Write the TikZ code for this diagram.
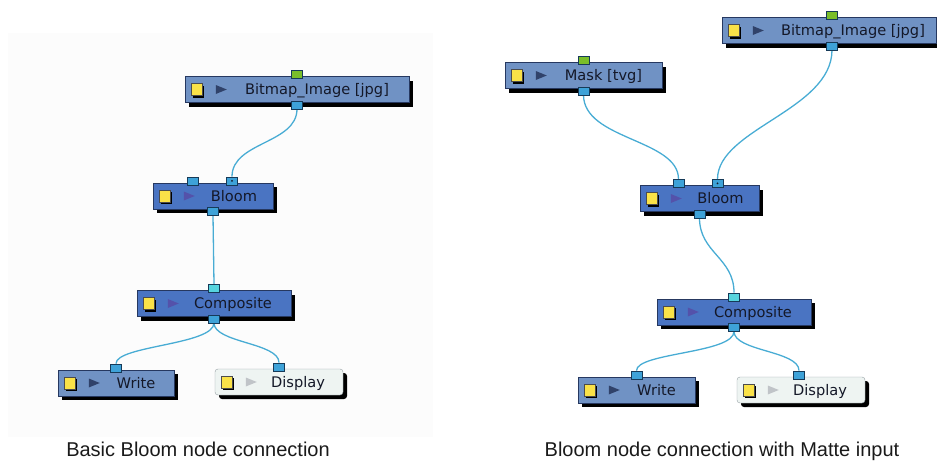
\documentclass[tikz,border=0pt]{standalone}
\usepackage{fontspec}
\newfontfamily\uifont{DejaVu Sans}
\newfontfamily\capfont{Liberation Sans}
\usetikzlibrary{shapes.geometric, shadows, backgrounds, calc}
\definecolor{cLight}{RGB}{112,146,196}
\definecolor{cDark}{RGB}{74,116,194}
\definecolor{cLine}{RGB}{38,56,96}
\definecolor{cPale}{RGB}{238,244,242}
\definecolor{cPaleLine}{RGB}{150,160,165}
\definecolor{cYel}{RGB}{250,226,72}
\definecolor{triL}{RGB}{48,66,106}
\definecolor{triD}{RGB}{84,82,170}
\definecolor{triP}{RGB}{192,196,200}
\definecolor{cPort}{RGB}{62,162,216}
\definecolor{cPortLine}{RGB}{22,58,88}
\definecolor{cGreen}{RGB}{122,190,42}
\definecolor{cCyan}{RGB}{86,212,222}
\definecolor{cWire}{RGB}{72,172,212}
\definecolor{cText}{RGB}{20,24,40}
\definecolor{cCap}{RGB}{26,26,26}
\definecolor{panelbg}{RGB}{252,252,252}
\tikzset{
  % --- Module boxes -----------------------------------------
  modbox/.style={draw=cLine, fill=cLight, minimum height=26pt, inner sep=0pt,
    drop shadow={shadow xshift=4pt, shadow yshift=-4pt, fill=black, opacity=1}},
  moddk/.style={modbox, fill=cDark},
  modpale/.style={modbox, fill=cPale, draw=cPaleLine, rounded corners=3pt},
  yel/.style={draw=black!70, fill=cYel, minimum width=11pt, minimum height=12pt,
    inner sep=0pt,
    drop shadow={shadow xshift=2pt, shadow yshift=-2pt, fill=black, opacity=1}},
  playtri/.style={isosceles triangle, isosceles triangle stretches,
    minimum width=9pt, minimum height=11pt, inner sep=0pt},
  lab/.style={font=\uifont\fontsize{14.6}{16}\selectfont, text=cText,
    inner sep=0pt, anchor=base},
  % --- Ports and wires --------------------------------------
  port/.style={draw=cPortLine, fill=cPort, minimum width=11pt,
    minimum height=8pt, inner sep=0pt},
  portg/.style={port, fill=cGreen},
  portc/.style={port, fill=cCyan},
  wire/.style={draw=cWire, line width=1.3pt},
  % --- Captions ---------------------------------------------
  captxt/.style={font=\capfont\fontsize{20}{24}\selectfont, text=cCap,
    inner sep=0pt, anchor=base}
}
\begin{document}
\begin{tikzpicture}[x=1pt, y=-1pt]
  \useasboundingbox (0,0) rectangle (937,463);

  % --- Basic Bloom (left) ---
  \node[modbox, minimum width=224pt] (bmpA)   at (297,89.5) {};
  \node[moddk,  minimum width=120pt] (bloomA) at (213,196) {};
  \node[moddk,  minimum width=154pt] (compA)  at (214,303.5) {};
  \node[modbox, minimum width=116pt] (writeA) at (116,383) {};
  \node[modpale, minimum width=128pt] (dispA) at (279,382) {};

  % --- Bloom with Matte (right) ---
  \node[modbox, minimum width=157pt] (maskB)  at (583.5,75.5) {};
  \node[modbox, minimum width=214pt] (bmpB)   at (829,30.5) {};
  \node[moddk,  minimum width=119pt] (bloomB) at (699.5,198.5) {};
  \node[moddk,  minimum width=154pt] (compB)  at (734,312) {};
  \node[modbox, minimum width=117pt] (writeB) at (636.5,390) {};
  \node[modpale, minimum width=128pt] (dispB) at (801,390) {};

  % --- icons and names ---
  \foreach \n/\tc in {bmpA/triL, bloomA/triD, compA/triD, writeA/triL,
      dispA/triP, maskB/triL, bmpB/triL, bloomB/triD, compB/triD,
      writeB/triL, dispB/triP} {
    \node[yel] (\n-y) at ([xshift=12pt]\n.west) {};
    \node[playtri, fill=\tc] (\n-p) at ([xshift=34pt]\n.west) {};
  }
  \foreach \n/\t/\dx in {bmpA/{Bitmap\_Image [jpg]}/20, bloomA/Bloom/21,
      compA/Composite/19, writeA/Write/20, dispA/Display/19,
      maskB/{Mask [tvg]}/20, bmpB/{Bitmap\_Image [jpg]}/24, bloomB/Bloom/21,
      compB/Composite/19, writeB/Write/20, dispB/Display/19}
    \node[lab] (\n-t) at ([xshift=\dx pt, yshift=-5pt]\n.center) {\t};

  % --- ports ---
  \node[portg] (bmpA-top)   at ([yshift=2pt]bmpA.north) {};
  \node[port]  (bmpA-out)   at ([yshift=-2pt]bmpA.south) {};
  \node[port]  (bloomA-in1) at ([xshift=-20pt, yshift=2pt]bloomA.north) {};
  \node[port]  (bloomA-in2) at ([xshift=19pt, yshift=2pt]bloomA.north) {};
  \node[port]  (bloomA-out) at ([yshift=-2pt]bloomA.south) {};
  \node[portc] (compA-in)   at ([yshift=2pt]compA.north) {};
  \node[port]  (compA-out)  at ([yshift=-2pt]compA.south) {};
  \node[port]  (writeA-in)  at ([yshift=2pt]writeA.north) {};
  \node[port]  (dispA-in)   at ([yshift=2pt]dispA.north) {};

  \node[portg] (maskB-top)  at ([yshift=2pt]maskB.north) {};
  \node[port]  (maskB-out)  at ([yshift=-2pt]maskB.south) {};
  \node[portg] (bmpB-top)   at ([xshift=3pt, yshift=2pt]bmpB.north) {};
  \node[port]  (bmpB-out)   at ([xshift=3pt, yshift=-2pt]bmpB.south) {};
  \node[port]  (bloomB-in1) at ([xshift=-21pt, yshift=2pt]bloomB.north) {};
  \node[port]  (bloomB-in2) at ([xshift=18pt, yshift=2pt]bloomB.north) {};
  \node[port]  (bloomB-out) at ([yshift=-2pt]bloomB.south) {};
  \node[portc] (compB-in)   at ([yshift=2pt]compB.north) {};
  \node[port]  (compB-out)  at ([yshift=-2pt]compB.south) {};
  \node[port]  (writeB-in)  at ([yshift=2pt]writeB.north) {};
  \node[port]  (dispB-in)   at ([xshift=-2pt, yshift=2pt]dispB.north) {};

  \fill[cText] (bloomA-in2) circle (1pt);
  \fill[cText] (bloomB-in2) circle (1pt);

  % --- wires, behind the boxes ---
  \begin{scope}[on background layer]
    \fill[panelbg] (8,33) rectangle (433,437);
    \draw[wire] (bmpA-out.south) .. controls +(0,35) and +(0,-35) .. (bloomA-in2.north);
    \draw[wire] (bloomA-out.south) -- (compA-in.north);
    \draw[wire] (compA-out.south) .. controls +(0,22) and +(0,-18) .. (writeA-in.north);
    \draw[wire] (compA-out.south) .. controls +(0,20) and +(0,-20) .. (dispA-in.north);

    \draw[wire] (maskB-out.south) .. controls +(0,45) and +(0,-40) .. (bloomB-in1.north);
    \draw[wire] (bmpB-out.south) .. controls +(0,60) and +(0,-50) .. (bloomB-in2.north);
    \draw[wire] (bloomB-out.south) .. controls +(0,35) and +(0,-35) .. (compB-in.north);
    \draw[wire] (compB-out.south) .. controls +(0,22) and +(0,-18) .. (writeB-in.north);
    \draw[wire] (compB-out.south) .. controls +(0,20) and +(0,-20) .. (dispB-in.north);
  \end{scope}

  % --- captions ---
  \node[captxt] (capA) at (198,456.5) {Basic Bloom node connection};
  \node[captxt] (capB) at (722,456.5) {Bloom node connection with Matte input};

\end{tikzpicture}
\end{document}
